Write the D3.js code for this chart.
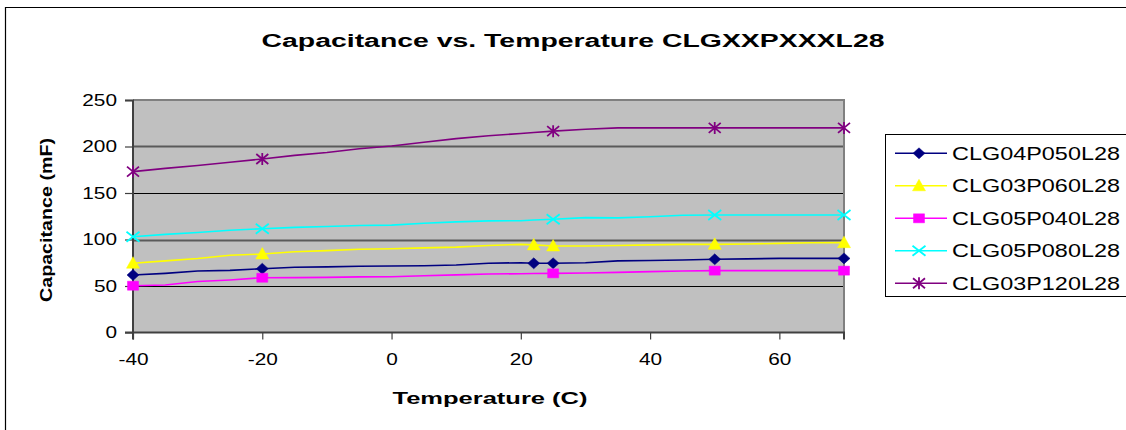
<!DOCTYPE html>
<html>
<head>
<meta charset="utf-8">
<script src="https://cdn.jsdelivr.net/npm/d3@7"></script>
<style>
  body { margin: 0; background: #fff; overflow: hidden; }
  svg { display: block; }
  text { font-family: Arial, "Liberation Sans", sans-serif; }
</style>
</head>
<body>
<div id="chart"></div>
<script>
// data
var temps = [-40, -35, -30, -25, -20, -15, -10, -5, 0, 5, 10, 15, 20, 22, 25, 30, 35, 40, 45, 50, 55, 60, 65, 70];

var clg04p050 = [61.8, 63.6, 66.1, 66.8, 68.6, 70.1, 70.6, 71.2, 71.5, 71.8, 72.6, 74.5, 75, 74.4, 74.4, 75, 77, 77.5, 78, 78.7, 79.2, 79.7, 79.7, 79.7];
var clg03p060 = [74.5, 77, 79.5, 83, 84.4, 86.8, 88, 89.5, 90, 91, 91.8, 93.5, 94.8, 94.2, 93, 93, 93.5, 94.2, 94.8, 94.8, 95.2, 95.8, 96.5, 96.6];
var clg05p040 = [50.3, 51, 54.8, 56.5, 58.9, 59, 59.3, 59.8, 60, 61, 62, 62.9, 63.2, 63.4, 63.6, 64, 64.7, 65.5, 66.1, 66.5, 66.5, 66.5, 66.5, 66.5];
var clg05p080 = [103, 105.5, 107.5, 110, 111.6, 113, 114, 115, 115.5, 117.5, 119, 120, 120.2, 121, 121.7, 123.5, 123.3, 124.5, 126, 126.3, 126.3, 126.3, 126.3, 126.3];
var clg03p120 = [173, 176.5, 179.5, 183, 186.6, 190.5, 193.5, 197.5, 200.5, 204.5, 208.5, 211.5, 214, 215, 216.5, 218.5, 220, 220, 220, 220, 220, 220, 220, 220];

// temperatures where a marker is drawn
var markersA = [-40, -20, 22, 25, 50, 70];
var markersB = [-40, -20, 25, 50, 70];

var seriesNames = ["CLG04P050L28", "CLG03P060L28", "CLG05P040L28", "CLG05P080L28", "CLG03P120L28"];
var seriesValues = [clg04p050, clg03p060, clg05p040, clg05p080, clg03p120];
var seriesMarkers = [markersA, markersA, markersB, markersB, markersB];
var seriesColors = ["#000080", "#ffff00", "#ff00ff", "#00ffff", "#800080"];
var seriesShapes = ["diamond", "triangle", "square", "cross", "star"];

var xTicks = [-40, -20, 0, 20, 40, 60];
var yTicks = [0, 50, 100, 150, 200, 250];

var W = 1126, H = 430;
var margin = { top: 100, left: 133 },
    width = 844 - 133,
    height = 332.5 - 100;

var svg = d3.select("#chart").append("svg")
    .attr("width", W)
    .attr("height", H);

// outer chart border (only left and top are inside the picture)
svg.append("path")
    .attr("d", "M5.5," + (H + 5) + "V7.5H" + (W + 5))
    .attr("fill", "none")
    .attr("stroke", "#000")
    .attr("stroke-width", 1.2);

var x = d3.scaleLinear().domain([-40, 70]).range([0, width]);
var y = d3.scaleLinear().domain([0, 250]).range([height, 0]);

var g = svg.append("g")
    .attr("transform", "translate(" + margin.left + "," + margin.top + ")");

// plot background
g.append("rect")
    .attr("width", width).attr("height", height)
    .attr("fill", "#c0c0c0");

// gridlines
g.selectAll(".grid")
    .data(yTicks.filter(function (d) { return d > 0 && d < 250; }))
    .enter().append("line")
    .attr("x1", 0).attr("x2", width)
    .attr("y1", function (d) { return Math.round(y(d)) + 0.5; })
    .attr("y2", function (d) { return Math.round(y(d)) + 0.5; })
    .attr("stroke", function (d) { return d % 100 == 0 ? "#5a5a5a" : "#000"; })
    .attr("stroke-width", function (d) { return d % 100 == 0 ? 2 : 1; });

// top and right border
g.append("path")
    .attr("d", "M0,0H" + width + "V" + height)
    .attr("fill", "none")
    .attr("stroke", "#808080")
    .attr("stroke-width", 2);

// stretch a text horizontally like the picture
function stretch(sel, k) {
    sel.each(function () {
        var len = this.getComputedTextLength();
        d3.select(this)
            .attr("textLength", len * k)
            .attr("lengthAdjust", "spacingAndGlyphs");
    });
}
function fitTo(sel, w) {
    sel.attr("textLength", w).attr("lengthAdjust", "spacingAndGlyphs");
}

// axes (plain hyphen for negatives, as in the picture)
var fmt = function (d) { return String(d); };
var yAxis = g.append("g")
    .call(d3.axisLeft(y).tickValues(yTicks).tickFormat(fmt).tickSize(8).tickPadding(8));
var xAxis = g.append("g")
    .attr("transform", "translate(0," + height + ")")
    .call(d3.axisBottom(x).tickValues(xTicks).tickFormat(fmt).tickSize(7).tickPadding(14));

[yAxis, xAxis].forEach(function (a) {
    a.select(".domain").attr("stroke", "#404040").attr("stroke-width", 2);
    a.selectAll(".tick line").attr("stroke", "#404040").attr("stroke-width", 1.2);
    a.selectAll(".tick text")
        .attr("fill", "#000")
        .attr("font-size", null)
        .style("font-size", "16px");
    a.selectAll(".tick text").call(stretch, 1.3);
});
yAxis.attr("font-size", null);
xAxis.attr("font-size", null);
yAxis.select(".domain").attr("d", "M-8,0.5H0V" + height + "H-8");
xAxis.select(".domain").attr("d", "M0,7V0H" + width + "V7");

// lines
var line = d3.line()
    .x(function (d) { return x(d[0]); })
    .y(function (d) { return y(d[1]); });

// marker shapes
function shapePath(shape, cx, cy) {
    var p = d3.path();
    if (shape == "diamond") {
        p.moveTo(cx, cy - 5.5); p.lineTo(cx + 6, cy); p.lineTo(cx, cy + 5.5); p.lineTo(cx - 6, cy); p.closePath();
    } else if (shape == "triangle") {
        p.moveTo(cx, cy - 6.5); p.lineTo(cx + 6.5, cy + 5); p.lineTo(cx - 6.5, cy + 5); p.closePath();
    } else if (shape == "square") {
        p.rect(cx - 5.5, cy - 4.5, 11, 9);
    } else if (shape == "cross") {
        p.moveTo(cx - 6.5, cy - 5); p.lineTo(cx + 6.5, cy + 5);
        p.moveTo(cx + 6.5, cy - 5); p.lineTo(cx - 6.5, cy + 5);
    } else {
        p.moveTo(cx - 6, cy - 5); p.lineTo(cx + 6, cy + 5);
        p.moveTo(cx + 6, cy - 5); p.lineTo(cx - 6, cy + 5);
        p.moveTo(cx, cy - 6); p.lineTo(cx, cy + 6);
    }
    return p.toString();
}
function drawMarker(sel, shape, color, cx, cy) {
    var filled = shape == "diamond" || shape == "triangle" || shape == "square";
    sel.append("path")
        .attr("d", shapePath(shape, cx, cy))
        .attr("fill", filled ? color : "none")
        .attr("stroke", color)
        .attr("stroke-width", filled ? 0.5 : 1.8);
}

seriesValues.forEach(function (vals, i) {
    var pts = temps.map(function (t, j) { return [t, vals[j]]; });
    g.append("path")
        .datum(pts)
        .attr("fill", "none")
        .attr("stroke", seriesColors[i])
        .attr("stroke-width", 1.6)
        .attr("d", line);
});
seriesValues.forEach(function (vals, i) {
    seriesMarkers[i].forEach(function (t) {
        var v = vals[temps.indexOf(t)];
        drawMarker(g, seriesShapes[i], seriesColors[i], x(t), y(v));
    });
});

// titles
svg.append("text")
    .attr("x", 573).attr("y", 47)
    .attr("text-anchor", "middle")
    .style("font-size", "18px").style("font-weight", "bold")
    .text("Capacitance vs. Temperature CLGXXPXXXL28")
    .call(fitTo, 623);

svg.append("text")
    .attr("x", 490).attr("y", 404)
    .attr("text-anchor", "middle")
    .style("font-size", "16px").style("font-weight", "bold")
    .text("Temperature (C)")
    .call(fitTo, 195);

svg.append("text")
    .attr("transform", "translate(52,220) rotate(-90)")
    .attr("text-anchor", "middle")
    .style("font-size", "16px").style("font-weight", "bold")
    .text("Capacitance (mF)")
    .call(fitTo, 164);

// legend (its right side runs off the picture)
var legend = svg.append("g");
legend.append("rect")
    .attr("x", 885.5).attr("y", 134.5)
    .attr("width", 280).attr("height", 162)
    .attr("fill", "#fff")
    .attr("stroke", "#000")
    .attr("stroke-width", 1);

seriesNames.forEach(function (name, i) {
    var ly = 153.3 + i * 32.5;
    legend.append("line")
        .attr("x1", 895).attr("x2", 947)
        .attr("y1", ly).attr("y2", ly)
        .attr("stroke", seriesColors[i])
        .attr("stroke-width", 1.6);
    drawMarker(legend, seriesShapes[i], seriesColors[i], 919, ly);
    legend.append("text")
        .attr("x", 952).attr("y", ly + 6.5)
        .style("font-size", "18.5px")
        .text(name)
        .call(fitTo, 168);
});
</script>
</body>
</html>
